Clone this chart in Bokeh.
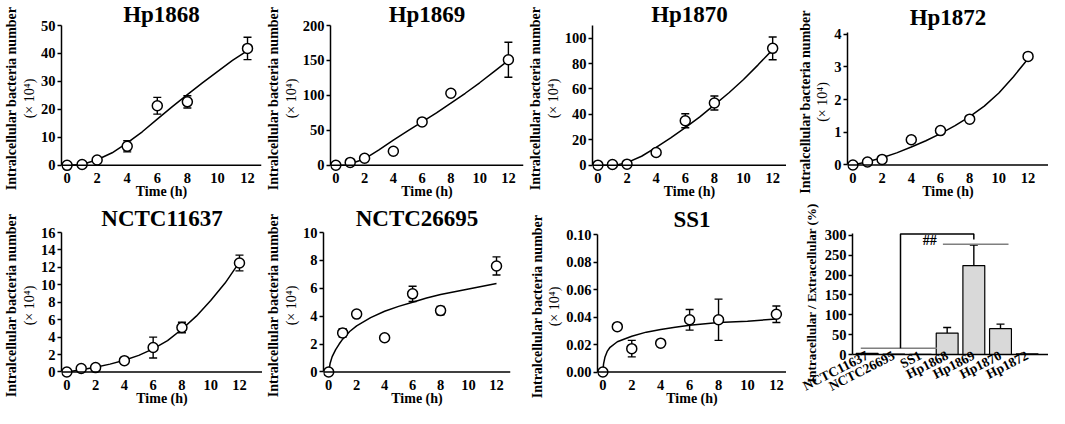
from bokeh.plotting import figure
from bokeh.models import Range1d, LinearAxis, FixedTicker, NumeralTickFormatter, Span
from bokeh.layouts import row, column
from bokeh.embed import file_html
from bokeh.resources import INLINE

# ---------------- data ----------------
time_h = [0, 1, 2, 4, 6, 8, 12]

hp1868_mean = [0, 0.3, 1.9, 6.8, 21.3, 22.7, 41.8]
hp1868_err = [0, 0, 0, 2.0, 3.0, 2.2, 4.0]
hp1868_fit_t = [0, 1, 2, 3, 4, 5, 6, 7, 8, 9, 10, 11, 12]
hp1868_fit = [0, 0.3, 2.0, 4.5, 8.0, 12.0, 16.5, 21.0, 25.3, 29.5, 33.5, 37.5, 41.0]

hp1869_mean = [0, 4, 10, 20, 62, 103, 151]
hp1869_err = [0, 0, 0, 0, 0, 0, 25]
hp1869_fit_t = [0, 0.7, 1, 2, 3, 4, 5, 6, 7, 8, 9, 10, 11, 12]
hp1869_fit = [0, 0, 2, 9, 22, 36, 49, 62, 75, 89, 103, 118, 134, 150]

hp1870_mean = [0, 0.5, 0.8, 10, 35, 49, 92]
hp1870_err = [0, 0, 0, 0, 5.5, 5.5, 9]
hp1870_fit_t = [0, 1.2, 2, 3, 4, 5, 6, 7, 8, 9, 10, 11, 12]
hp1870_fit = [0, 0, 2, 7, 14, 21.5, 29.5, 38, 47.5, 57, 67.5, 79, 91]

hp1872_mean = [0, 0.09, 0.17, 0.77, 1.05, 1.4, 3.32]
hp1872_err = [0, 0, 0, 0.1, 0.05, 0.05, 0]
hp1872_fit_t = [0, 1, 2, 3, 4, 5, 6, 7, 8, 9, 10, 11, 12]
hp1872_fit = [0, 0.1, 0.22, 0.37, 0.55, 0.74, 0.96, 1.2, 1.48, 1.8, 2.2, 2.7, 3.25]

nctc11637_mean = [0, 0.4, 0.5, 1.3, 2.8, 5.1, 12.5]
nctc11637_err = [0, 0, 0, 0, 1.2, 0.6, 0.9]
nctc11637_fit_t = [0, 1, 2, 3, 4, 5, 6, 7, 8, 9, 10, 11, 12]
nctc11637_fit = [0, 0.25, 0.55, 0.9, 1.35, 1.9, 2.65, 3.6, 4.9, 6.4, 8.2, 10.2, 12.6]

nctc26695_mean = [0, 2.8, 4.15, 2.45, 5.6, 4.4, 7.6]
nctc26695_err = [0, 0.3, 0, 0, 0.55, 0.3, 0.65]
nctc26695_fit_t = [0, 0.1, 0.25, 0.5, 0.75, 1, 1.5, 2, 3, 4, 5, 6, 7, 8, 9, 10, 11, 12]
nctc26695_fit = [0, 0.6, 1.1, 1.6, 2.0, 2.35, 2.9, 3.3, 3.9, 4.35, 4.7, 5.0, 5.3, 5.55, 5.75, 5.95, 6.15, 6.35]

ss1_mean = [0, 0.033, 0.017, 0.021, 0.038, 0.038, 0.042]
ss1_err = [0, 0, 0.006, 0, 0.0075, 0.015, 0.006]
ss1_fit_t = [0, 0.05, 0.15, 0.3, 0.5, 1, 1.5, 2, 3, 4, 5, 6, 8, 10, 12]
ss1_fit = [0, 0.006, 0.011, 0.015, 0.018, 0.022, 0.024, 0.026, 0.029, 0.031, 0.0325, 0.034, 0.036, 0.037, 0.0385]

strains = ["NCTC11637", "NCTC26695", "SS1", "Hp1868", "Hp1869", "Hp1870", "Hp1872"]
ratio_mean = [3, 0.8, 0.3, 54, 224, 65, 1.5]
ratio_err = [0, 0, 0, 14, 52, 11.5, 0]

bracket_x = [1.25, 1.25, 4.0, 4.0]
bracket_y = [16, 304, 304, 290]
low_group_x = [-0.24, 2.62]
low_group_y = [15.6, 15.6]
high_group_x = [2.84, 5.3]
high_group_y = [278, 278]
sig_x = [2.35]
sig_y = [288]
sig_text = ["##"]

# ---------------- styling ----------------
SERIF = "Liberation Serif"
TICK_SIZE = "14.5px"
YLAB_SIZE = "14px"
XLAB_SIZE = "14px"
TITLE_SIZE = "23px"
ROW1_H = 201
ROW2_H = 207
W = 262


def style_axis(ax):
    ax.axis_line_color = "black"
    ax.axis_line_width = 1.5
    ax.major_tick_line_color = "black"
    ax.major_tick_line_width = 1.5
    ax.major_tick_in = 0
    ax.major_tick_out = 4
    ax.minor_tick_line_color = None
    ax.major_label_text_font = SERIF
    ax.major_label_text_font_style = "bold"
    ax.major_label_text_font_size = TICK_SIZE
    ax.major_label_text_color = "black"
    ax.axis_label_text_font = SERIF
    ax.axis_label_text_font_style = "bold"
    ax.axis_label_text_font_size = YLAB_SIZE
    ax.axis_label_text_color = "black"


def base_fig(H, mbl, mbr, mbt, mbb, xr, yr, title=None, standoff=0):
    p = figure(width=W, height=H, x_range=xr, y_range=yr,
               output_backend="svg", toolbar_location=None,
               min_border_left=int(mbl), min_border_right=int(mbr),
               min_border_top=int(mbt), min_border_bottom=int(mbb),
               title=title)
    p.frame_align = False
    p.outline_line_color = None
    p.grid.visible = False
    p.background_fill_color = "white"
    p.border_fill_color = "white"
    if title:
        p.title.align = "center"
        p.title.text_font = SERIF
        p.title.text_font_style = "bold"
        p.title.text_font_size = TITLE_SIZE
        p.title.text_color = "black"
        p.title.standoff = standoff
    return p


def line_panel(title, t, mean, err, fit_t, fit, xr, yr, ytop, yticks, yfmt, H,
               mbl, mbr, mbt, standoff):
    p = base_fig(H, mbl, mbr, mbt, 0, Range1d(*xr), Range1d(*yr), title, standoff)
    style_axis(p.xaxis[0])
    style_axis(p.yaxis[0])
    p.xaxis.axis_line_color = None
    p.xaxis.ticker = FixedTicker(ticks=[0, 2, 4, 6, 8, 10, 12])
    p.xaxis.major_tick_line_color = None
    p.xaxis.major_tick_out = 0
    p.xaxis.major_label_standoff = 1
    p.xaxis.axis_label = "Time (h)"
    p.xaxis.axis_label_standoff = -2
    p.xaxis.axis_label_text_font_size = XLAB_SIZE
    p.add_layout(Span(location=0, dimension="width", line_color="black",
                      line_width=1.5))
    p.yaxis.bounds = (0, ytop)
    p.yaxis.ticker = FixedTicker(ticks=yticks)
    p.yaxis.major_label_standoff = 2
    p.yaxis.axis_label = "(× 10⁴)"
    p.yaxis.axis_label_text_font_style = "normal"
    p.yaxis.axis_label_standoff = 1
    if yfmt:
        p.yaxis.formatter = NumeralTickFormatter(format=yfmt)
    outer = LinearAxis(ticker=FixedTicker(ticks=[]),
                       axis_label="Intralcellular bacteria number")
    style_axis(outer)
    outer.axis_line_color = None
    outer.major_tick_line_color = None
    outer.major_tick_out = 0
    outer.major_label_standoff = 0
    outer.axis_label_standoff = 0
    p.add_layout(outer, "left")

    et = [ti for ti, e in zip(t, err) if e > 0]
    lo = [m - e for m, e in zip(mean, err) if e > 0]
    hi = [m + e for m, e in zip(mean, err) if e > 0]
    if et:
        p.segment(x0=et, y0=lo, x1=et, y1=hi, line_color="black", line_width=1.4)
        p.scatter(x=et + et, y=lo + hi, marker="dash", size=8,
                  line_color="black", line_width=1.4)
    p.line(fit_t, fit, line_color="black", line_width=1.5)
    p.scatter(t, mean, marker="circle", size=10, fill_color="white",
              line_color="black", line_width=1.5)
    return p


p1 = line_panel("Hp1868", time_h, hp1868_mean, hp1868_err, hp1868_fit_t, hp1868_fit,
                (-0.37, 12.93), (-2.2, 50), 50, [0, 10, 20, 30, 40, 50], None,
                ROW1_H, 60, 1, 0, -2)
p2 = line_panel("Hp1869", time_h, hp1869_mean, hp1869_err, hp1869_fit_t, hp1869_fit,
                (-0.37, 13.05), (-9, 200), 200, [0, 50, 100, 150, 200], None,
                ROW1_H, 60, 1, 0, -2)
p3 = line_panel("Hp1870", time_h, hp1870_mean, hp1870_err, hp1870_fit_t, hp1870_fit,
                (-0.37, 12.95), (-5, 110), 110, [0, 20, 40, 60, 80, 100], None,
                ROW1_H, 66, 0, 0, -2)
p4 = line_panel("Hp1872", time_h, hp1872_mean, hp1872_err, hp1872_fit_t, hp1872_fit,
                (-0.37, 13.4), (-0.2, 4.05), 4.05, [0, 1, 2, 3, 4], None,
                ROW1_H, 61, 0, 0, 5)
p5 = line_panel("NCTC11637", time_h, nctc11637_mean, nctc11637_err, nctc11637_fit_t, nctc11637_fit,
                (-0.37, 13.6), (-0.75, 16), 16, [0, 2, 4, 6, 8, 10, 12, 14, 16], None,
                ROW2_H, 60, 0, 0, 4)
p6 = line_panel("NCTC26695", time_h, nctc26695_mean, nctc26695_err, nctc26695_fit_t, nctc26695_fit,
                (-0.37, 13.0), (-0.47, 10), 10, [0, 2, 4, 6, 8, 10], None,
                ROW2_H, 52, 14, 0, 4)
p7 = line_panel("SS1", time_h, ss1_mean, ss1_err, ss1_fit_t, ss1_fit,
                (-0.37, 12.7), (-0.0047, 0.1), 0.1, [0, 0.02, 0.04, 0.06, 0.08, 0.10], "0.00",
                ROW2_H, 73, 0, 0, 6)

# ---------------- bar panel ----------------
idx = list(range(len(strains)))
p8 = base_fig(ROW2_H, 66, 0, 30, 54, Range1d(-0.55, 6.8), Range1d(0, 310))
style_axis(p8.xaxis[0])
style_axis(p8.yaxis[0])
p8.yaxis.bounds = (0, 305)
p8.yaxis.ticker = FixedTicker(ticks=[0, 50, 100, 150, 200, 250, 300])
p8.yaxis.major_label_standoff = 2
p8.yaxis.axis_label = "Intracellular / Extracellular (%)"
p8.yaxis.axis_label_text_font_size = "13px"
p8.yaxis.axis_label_standoff = 3
p8.xaxis.ticker = FixedTicker(ticks=idx)
p8.xaxis.major_label_overrides = {i: s for i, s in zip(idx, strains)}
p8.xaxis.major_label_orientation = 0.47
p8.xaxis.major_label_text_font_size = "13.5px"
p8.xaxis.major_tick_line_color = None
p8.xaxis.major_tick_out = 0
p8.xaxis.major_label_standoff = 0

p8.vbar(x=idx, top=ratio_mean, width=0.82, fill_color="#d9d9d9",
        line_color="black", line_width=1.2)
ei = [i for i, e in zip(idx, ratio_err) if e > 0]
etop = [m for m, e in zip(ratio_mean, ratio_err) if e > 0]
ehi = [m + e for m, e in zip(ratio_mean, ratio_err) if e > 0]
p8.segment(x0=ei, y0=etop, x1=ei, y1=ehi, line_color="black", line_width=1.4)
p8.scatter(x=ei, y=ehi, marker="dash", size=8, line_color="black", line_width=1.4)
p8.line(low_group_x, low_group_y, line_color="#7f7f7f", line_width=1.5)
p8.line(high_group_x, high_group_y, line_color="#7f7f7f", line_width=1.5)
p8.line(bracket_x, bracket_y, line_color="black", line_width=1.5)
p8.text(x=sig_x, y=sig_y, text=sig_text, text_font={"value": SERIF},
        text_font_style="bold", text_font_size="14px", text_align="center",
        text_baseline="middle", text_color="black")

layout = column(row(p1, p2, p3, p4), row(p5, p6, p7, p8))
open("out.html", "w").write(file_html(layout, INLINE))
